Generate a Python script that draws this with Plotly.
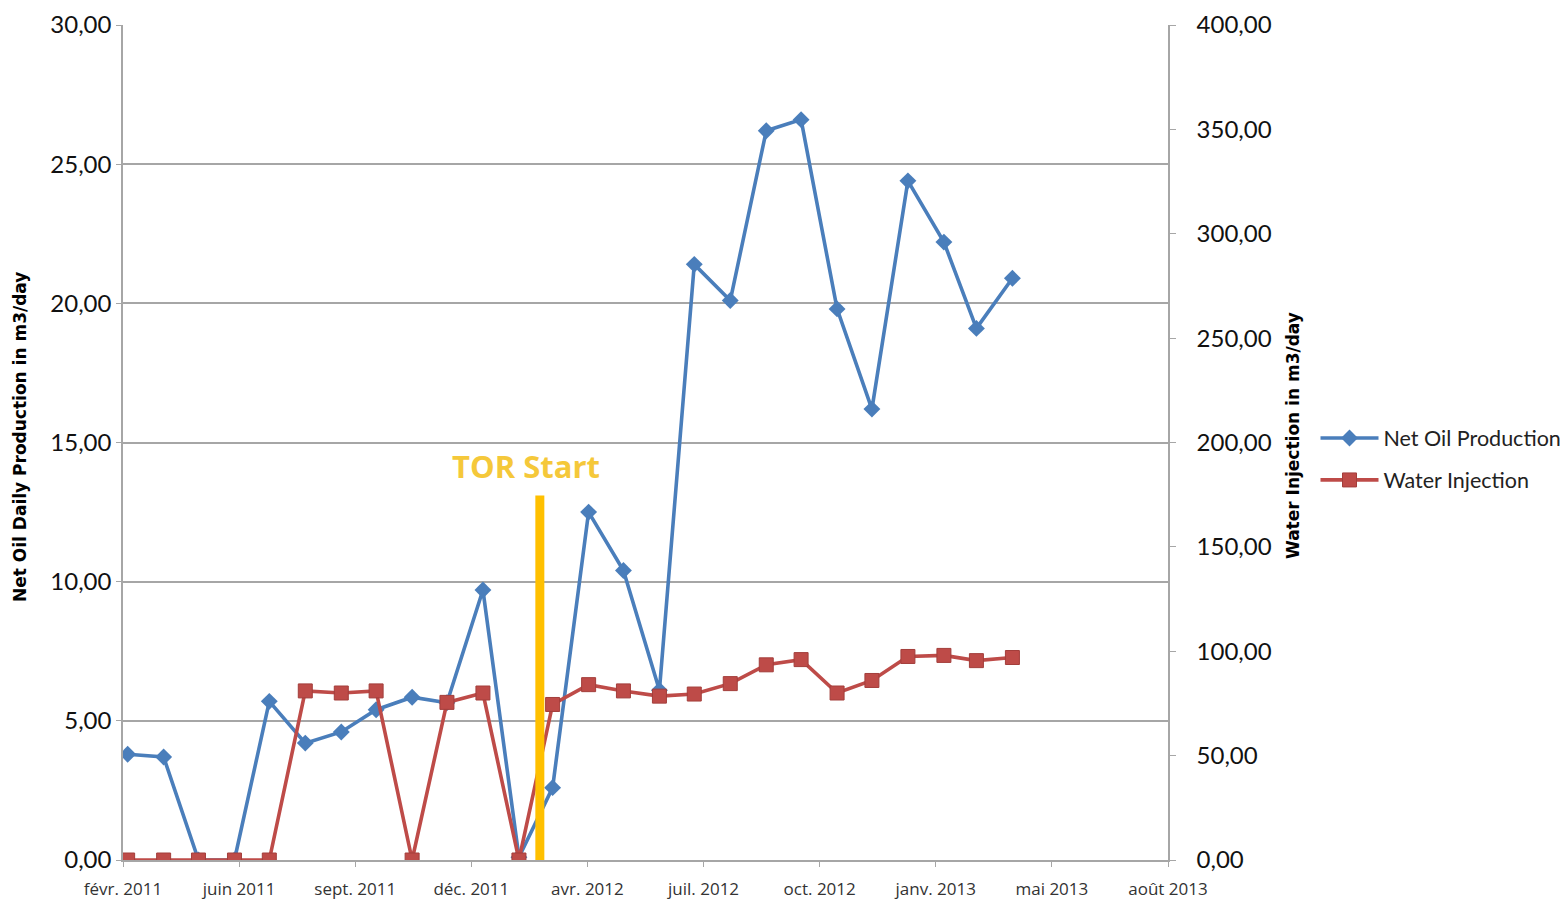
import plotly.graph_objects as go

months = [f"{y}-{m:02d}-01" for y, m in
          [(2011, m) for m in range(3, 13)] + [(2012, m) for m in range(1, 13)] + [(2013, m) for m in range(1, 5)]]

net_oil = [3.8, 3.7, 0.0, 0.0, 5.7, 4.2, 4.6, 5.4, 5.85, 5.65, 9.7, 0.1,
           2.6, 12.5, 10.4, 6.1, 21.4, 20.1, 26.2, 26.6, 19.8, 16.2, 24.4, 22.2, 19.1, 20.9]
water_inj = [0.0, 0.0, 0.0, 0.0, 0.0, 81.0, 80.0, 81.0, 0.0, 75.5, 80.0, 0.0,
             74.5, 84.0, 81.0, 78.5, 79.5, 84.5, 93.5, 96.0, 80.0, 86.0, 97.5, 98.0, 95.5, 97.0]

tick_dates = ["2011-02-25", "2011-06-05", "2011-09-13", "2011-12-22", "2012-03-31",
              "2012-07-09", "2012-10-17", "2013-01-25", "2013-05-05", "2013-08-13"]
tick_labels = ["févr. 2011", "juin 2011", "sept. 2011", "déc. 2011", "avr. 2012",
               "juil. 2012", "oct. 2012", "janv. 2013", "mai 2013", "août 2013"]

tor_date = "2012-02-19"
tor_top = 13.1

BLUE = "#4A7EBB"
RED = "#BE4B48"
GRID = "#A6A6A6"

fig = go.Figure()
fig.add_trace(go.Scatter(
    x=months, y=net_oil, name="Net Oil Production", mode="lines+markers",
    line=dict(color=BLUE, width=3.6),
    marker=dict(symbol="diamond", size=13, color=BLUE),
    legendgroup="a", yaxis="y"))
fig.add_trace(go.Scatter(
    x=months, y=water_inj, name="Water Injection", mode="lines+markers",
    line=dict(color=RED, width=3.6),
    marker=dict(symbol="square", size=14, color=RED, line=dict(color="#A33E3B", width=1)),
    legendgroup="b", yaxis="y2"))

fig.add_shape(type="line", xref="x", yref="y", x0=tor_date, x1=tor_date, y0=0, y1=tor_top,
              line=dict(color="#FFC000", width=9))
fig.add_annotation(x=tor_date, y=tor_top, xref="x", yref="y", text="<b>TOR Start</b>",
                   showarrow=False, yanchor="bottom", yshift=6, xshift=-14,
                   font=dict(family="Open Sans", size=31, color="#F5C83A"))

fig.add_annotation(xref="paper", yref="paper", x=(20 - 123) / 1045, y=(860 - 437) / 835,
                   text="<b>Net Oil Daily Production in m3/day</b>", textangle=-90,
                   showarrow=False, xanchor="center", yanchor="middle",
                   font=dict(family="DejaVu Sans", size=17, color="#000"))
fig.add_annotation(xref="paper", yref="paper", x=(1293 - 123) / 1045, y=(860 - 436) / 835,
                   text="<b>Water Injection in m3/day</b>", textangle=-90,
                   showarrow=False, xanchor="center", yanchor="middle",
                   font=dict(family="DejaVu Sans", size=17, color="#000"))

fig.update_layout(
    width=1566, height=902,
    margin=dict(l=123, r=398, t=25, b=42, autoexpand=False),
    plot_bgcolor="white", paper_bgcolor="white",
    separators=",.",
    showlegend=True,
    legend=dict(xref="container", yref="container", x=1315.5 / 1566, y=1 - 417.5 / 902,
                xanchor="left", yanchor="top",
                font=dict(family="Lato", size=21.5, color="#222"),
                itemwidth=58, tracegroupgap=11, bgcolor="rgba(0,0,0,0)"),
    xaxis=dict(type="date", range=["2011-02-25", "2013-08-13"], automargin=False,
               tickmode="array", tickvals=tick_dates, ticktext=tick_labels,
               showgrid=False, showline=True, linecolor=GRID, linewidth=1.5,
               ticks="outside", ticklen=5, tickcolor=GRID, ticklabelstandoff=8,
               tickfont=dict(family="Open Sans", size=17, color="#333")),
    yaxis=dict(range=[0, 30], dtick=5, tickformat=".2f", automargin=False,
               showgrid=True, gridcolor=GRID, gridwidth=1.5,
               showline=True, linecolor=GRID, linewidth=1.5,
               ticks="outside", ticklen=5, tickcolor=GRID, zeroline=False,
               tickfont=dict(family="Lato", size=24, color="#111")),
    yaxis2=dict(range=[0, 400], dtick=50, tickformat=".2f", overlaying="y", side="right",
                automargin=False,
                showgrid=False, showline=True, linecolor=GRID, linewidth=1.5,
                ticks="outside", ticklen=6, tickcolor=GRID, zeroline=False,
                ticklabelstandoff=16,
                tickfont=dict(family="Lato", size=24, color="#111")),
)

fig.write_html("out.html")
